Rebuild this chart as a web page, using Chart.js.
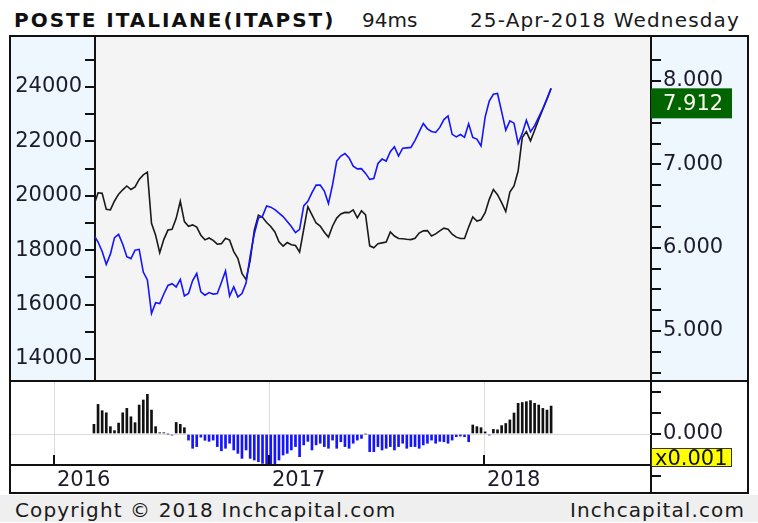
<!DOCTYPE html>
<html>
<head>
<meta charset="utf-8">
<title>POSTE ITALIANE (ITAPST)</title>
<script src="https://cdn.jsdelivr.net/npm/chart.js@4.4.1/dist/chart.umd.min.js"></script>
<style>
  html, body { margin: 0; padding: 0; background: #fff; }
  body { width: 758px; height: 523px; position: relative; overflow: hidden; font-family: "DejaVu Sans", Verdana, sans-serif; color: #1a1a1a; }
  .txt { position: absolute; white-space: nowrap; font-size: 20px; line-height: 20px; }
  #title { left: 14px; top: 10px; font-weight: bold; letter-spacing: 2px; color: #111; }
  #speed { left: 362px; top: 10px; }
  #date { left: 470px; top: 10px; letter-spacing: 1.15px; }
  #frame { position: absolute; left: 9px; top: 35px; width: 740px; height: 459px; box-sizing: border-box; border: 2px solid #111; }
  #main { position: absolute; left: 0; top: 0; }
  #lower { position: absolute; left: 0; top: 345px; }
  #footer { position: absolute; left: 0; top: 495px; width: 758px; height: 27px; background: #efefef; }
  #copy { left: 15px; top: 5px; letter-spacing: 1.1px; }
  #site { left: 570px; top: 5px; letter-spacing: 1.1px; }
</style>
</head>
<body>
<div class="txt" id="title">POSTE ITALIANE(ITAPST)</div>
<div class="txt" id="speed">94ms</div>
<div class="txt" id="date">25-Apr-2018 Wednesday</div>

<div id="frame">
  <canvas id="main" width="736" height="345"></canvas>
  <canvas id="lower" width="736" height="110"></canvas>
</div>

<div id="footer">
  <div class="txt" id="copy">Copyright © 2018 Inchcapital.com</div>
  <div class="txt" id="site">Inchcapital.com</div>
</div>

<script>
// weekly closes, first week 9 Mar 2016, last week 25 Apr 2018
const FIRST_WEEK = "2016-03-09"

// black line, left axis
const benchmark = [
  19660, 20110, 20090, 19500, 19480, 19810, 20060, 20220, 20360, 20230,
  20330, 20600, 20770, 20870, 18990, 18550, 17910, 18400, 18740, 18770,
  19170, 19800, 19050, 18880, 18930, 18850, 18550, 18380, 18450, 18360,
  18220, 18240, 18440, 18370, 17950, 17700, 17150, 16920, 17630, 18740,
  19290, 19210, 19020, 18870, 18670, 18310, 18150, 18280, 18200, 18170,
  17930, 18770, 19600, 19300, 19000, 18890, 18660, 18480, 18890, 19180,
  19330, 19390, 19380, 19480, 19190, 19450, 19300, 18160, 18090, 18240,
  18270, 18300, 18670, 18520, 18430, 18420, 18400, 18390, 18440, 18630,
  18710, 18720, 18520, 18600, 18710, 18810, 18770, 18590, 18480, 18430,
  18430, 18850, 19220, 19070, 19120, 19380, 19870, 20230, 20040, 19750,
  19420, 20140, 20360, 20910, 22140, 22360, 22020, 22410, 22810, 23180,
  23550, 23950
]

// blue line, right axis (ITAPST)
const poste = [
  6.152, 6.068, 5.955, 5.800, 5.922, 6.120, 6.160, 6.042, 5.892, 5.869,
  5.970, 5.980, 5.707, 5.612, 5.210, 5.340, 5.330, 5.444, 5.547, 5.568,
  5.529, 5.620, 5.420, 5.450, 5.606, 5.690, 5.470, 5.430, 5.461, 5.443,
  5.451, 5.582, 5.720, 5.420, 5.530, 5.410, 5.450, 5.576, 5.902, 6.165,
  6.356, 6.378, 6.500, 6.486, 6.456, 6.414, 6.373, 6.314, 6.254, 6.180,
  6.220, 6.502, 6.555, 6.660, 6.750, 6.750, 6.679, 6.530, 6.757, 7.039,
  7.099, 7.130, 7.076, 6.978, 6.945, 6.948, 6.891, 6.820, 6.830, 7.011,
  7.063, 7.039, 7.152, 7.210, 7.100, 7.194, 7.198, 7.203, 7.288, 7.390,
  7.490, 7.426, 7.395, 7.383, 7.443, 7.537, 7.580, 7.360, 7.330, 7.358,
  7.324, 7.486, 7.322, 7.303, 7.220, 7.566, 7.758, 7.840, 7.850, 7.633,
  7.410, 7.522, 7.494, 7.250, 7.371, 7.530, 7.392, 7.464, 7.566, 7.670,
  7.789, 7.912
]

// lower panel histogram, in units of 0.001
const histogram = [
  0.46, 1.41, 1.11, 1.01, 0.35, 0.16, 0.52, 1.01, 1.22, 0.82,
  0.54, 1.38, 1.62, 1.89, 1.14, 0.35, 0.06, 0.06, 0, -0.05,
  0.55, 0.46, 0.3, -0.29, -0.68, -0.6, -0.15, -0.3, -0.35, -0.29,
  -0.6, -0.8, -0.68, -0.44, -0.76, -0.92, -1.16, -0.76, -1.16, -1.24,
  -1.32, -1.4, -1.48, -1.48, -1.48, -1.24, -1.0, -0.92, -0.76, -0.6,
  -1.08, -0.52, -0.35, -0.76, -0.52, -0.44, -0.6, -0.68, -0.29, -0.68,
  -0.37, -0.6, -0.68, -0.44, -0.29, -0.21, 0, -0.84, -0.84, -0.6,
  -0.76, -0.68, -0.6, -0.76, -0.6, -0.44, -0.68, -0.6, -0.6, -0.68,
  -0.52, -0.44, -0.29, -0.44, -0.35, -0.37, -0.44, -0.29, -0.13, -0.1,
  -0.13, -0.37, 0.43, 0.35, 0.3, 0.1, -0.05, 0.22, 0.2, 0.4,
  0.5, 0.67, 1.0, 1.46, 1.5, 1.54, 1.59, 1.46, 1.38, 1.22,
  1.14, 1.33
]

const years = [2016, 2017, 2018]
const leftTicks = [14000, 15000, 16000, 17000, 18000, 19000, 20000, 21000, 22000, 23000, 24000, 25000]
const rightTicks = [4.5, 4.75, 5, 5.25, 5.5, 5.75, 6, 6.25, 6.5, 6.75, 7, 7.25, 7.5, 7.75, 8, 8.25]
const histTicks = [-2, -1, 0, 1, 2]

const BLUE = "#1414ff"
const INK = "#111"
const LABEL = "#1c1c2c"
const PANEL = "#eef6fe"
const PLOT_BG = "#f4f4f4"
const FONT = { family: "DejaVu Sans", size: 21 }

function yearFraction(d) {
  const y = d.getUTCFullYear()
  const start = Date.UTC(y, 0, 1)
  const end = Date.UTC(y + 1, 0, 1)
  return y + (d.getTime() - start) / (end - start)
}
const weekX = benchmark.map((_, i) => yearFraction(new Date(Date.parse(FIRST_WEEK) + i * 7 * 864e5)))

const X_MAX = 2018.777

function axisStyle(extra) {
  return Object.assign({
    grid: { drawOnChartArea: false, color: INK, lineWidth: 2, tickLength: 10 },
    border: { color: INK, width: 2 },
  }, extra)
}

const mainPanels = {
  id: "mainPanels",
  beforeDraw(chart) {
    const { ctx, chartArea: a, width, height } = chart
    ctx.save()
    ctx.fillStyle = PANEL
    ctx.fillRect(0, 0, a.left, height)
    ctx.fillRect(a.right, 0, width - a.right, height)
    ctx.fillStyle = PLOT_BG
    ctx.fillRect(a.left, 0, a.right - a.left, a.bottom)
    ctx.restore()
  },
  afterDraw(chart) {
    const { ctx, chartArea: a, width } = chart
    ctx.save()
    ctx.strokeStyle = INK
    ctx.lineWidth = 2
    ctx.beginPath()
    ctx.moveTo(0, a.bottom)
    ctx.lineTo(width, a.bottom)
    ctx.stroke()
    // last value tag
    const last = poste[poste.length - 1]
    const y = chart.scales.yRight.getPixelForValue(last)
    ctx.fillStyle = "#006400"
    ctx.fillRect(a.right, y, 81, 30)
    ctx.fillStyle = "#fbfbef"
    ctx.font = "21px 'DejaVu Sans'"
    ctx.textBaseline = "middle"
    ctx.fillText(last.toFixed(3), a.right + 12, y + 16)
    ctx.restore()
  }
}

new Chart(document.getElementById("main"), {
  type: "line",
  data: {
    datasets: [
      {
        label: "ITAPST",
        data: poste.map((v, i) => ({ x: weekX[i], y: v })),
        yAxisID: "yRight",
        borderColor: BLUE,
        borderWidth: 1.6,
        pointRadius: 0,
        tension: 0,
        order: 0
      },
      {
        label: "Index",
        data: benchmark.map((v, i) => ({ x: weekX[i], y: v })),
        yAxisID: "yLeft",
        borderColor: "#1a1a1a",
        borderWidth: 1.6,
        pointRadius: 0,
        tension: 0,
        order: 1
      }
    ]
  },
  options: {
    responsive: false,
    animation: false,
    events: [],
    layout: { padding: { bottom: 1 } },
    plugins: { legend: { display: false }, tooltip: { enabled: false } },
    scales: {
      x: { type: "linear", display: false, min: 2016.1907, max: X_MAX },
      yLeft: axisStyle({
        position: "left",
        min: 13191,
        max: 25838,
        afterBuildTicks: s => { s.ticks = leftTicks.map(v => ({ value: v })) },
        afterFit: s => { s.width = 84; s.paddingTop = 0; s.paddingBottom = 0 },
        ticks: { autoSkip: false, padding: 3, color: LABEL, font: FONT,
          callback: v => (v % 2000 === 0 ? String(v) : "") }
      }),
      yRight: axisStyle({
        position: "right",
        min: 4.4,
        max: 8.528,
        afterBuildTicks: s => { s.ticks = rightTicks.map(v => ({ value: v })) },
        afterFit: s => { s.width = 96; s.paddingTop = 0; s.paddingBottom = 0 },
        ticks: { autoSkip: false, padding: 2, color: LABEL, font: FONT,
          callback: v => (Number.isInteger(v) ? v.toFixed(3) : "") }
      })
    }
  },
  plugins: [mainPanels]
})

const STRIP_TOP = 83

const lowerPanels = {
  id: "lowerPanels",
  beforeDatasetsDraw(chart) {
    const { ctx, chartArea: a } = chart
    const xs = chart.scales.x
    const y0 = chart.scales.y.getPixelForValue(0)
    ctx.save()
    ctx.strokeStyle = "#dcdcdc"
    ctx.lineWidth = 1
    ctx.beginPath()
    years.forEach(yr => {
      const x = Math.round(xs.getPixelForValue(yr)) + 0.5
      ctx.moveTo(x, 0)
      ctx.lineTo(x, STRIP_TOP)
    })
    ctx.moveTo(a.left, Math.round(y0) + 0.5)
    ctx.lineTo(a.right, Math.round(y0) + 0.5)
    ctx.stroke()
    ctx.restore()
  },
  afterDraw(chart) {
    const { ctx, chartArea: a, height } = chart
    const xs = chart.scales.x
    ctx.save()
    ctx.fillStyle = "#fff"
    ctx.fillRect(0, STRIP_TOP, a.right - 1, height - STRIP_TOP)
    ctx.strokeStyle = INK
    ctx.lineWidth = 2
    ctx.beginPath()
    ctx.moveTo(0, STRIP_TOP)
    ctx.lineTo(a.right, STRIP_TOP)
    years.forEach(yr => {
      const x = Math.round(xs.getPixelForValue(yr))
      ctx.moveTo(x, STRIP_TOP - 10)
      ctx.lineTo(x, STRIP_TOP)
    })
    ctx.stroke()
    ctx.fillStyle = LABEL
    ctx.font = "21px 'DejaVu Sans'"
    ctx.textBaseline = "alphabetic"
    years.forEach(yr => {
      ctx.fillText(String(yr), xs.getPixelForValue(yr) + 3, STRIP_TOP + 21)
    })
    // scale factor tag
    const y0 = chart.scales.y.getPixelForValue(0)
    ctx.fillStyle = "#ffff00"
    ctx.fillRect(a.right, y0 + 14, 81, 19)
    ctx.strokeStyle = "#333"
    ctx.lineWidth = 1
    ctx.strokeRect(a.right + 0.5, y0 + 14.5, 80, 18)
    ctx.fillStyle = "#111"
    ctx.fillText("x0.001", a.right + 4, y0 + 31)
    ctx.restore()
  }
}

new Chart(document.getElementById("lower"), {
  type: "bar",
  data: {
    datasets: [{
      label: "Histogram",
      data: histogram.map((v, i) => ({ x: weekX[i], y: v })),
      backgroundColor: histogram.map(v => (v >= 0 ? INK : BLUE)),
      borderWidth: 0,
      barThickness: 2
    }]
  },
  options: {
    responsive: false,
    animation: false,
    events: [],
    plugins: { legend: { display: false }, tooltip: { enabled: false } },
    scales: {
      x: { type: "linear", display: false, offset: false, grid: { offset: false }, min: 2015.8, max: X_MAX },
      y: axisStyle({
        position: "right",
        min: -2.762,
        max: 2.476,
        afterBuildTicks: s => { s.ticks = histTicks.map(v => ({ value: v })) },
        afterFit: s => { s.width = 96; s.paddingTop = 0; s.paddingBottom = 0 },
        ticks: { autoSkip: false, padding: 2, color: LABEL, font: FONT,
          callback: v => (v === 0 ? "0.000" : "") }
      })
    }
  },
  plugins: [lowerPanels]
})
</script>
</body>
</html>
